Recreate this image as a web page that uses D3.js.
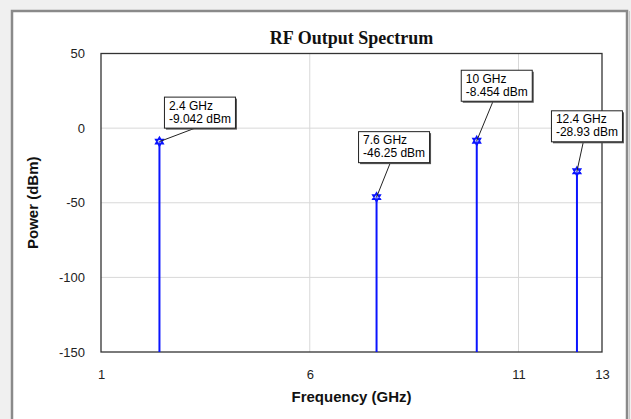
<!DOCTYPE html>
<html>
<head>
<meta charset="utf-8">
<script src="https://cdn.jsdelivr.net/npm/d3@7/dist/d3.min.js"></script>
<style>
  html, body { margin: 0; padding: 0; background: #f0f0f0; }
  svg { display: block; }
</style>
</head>
<body>
<svg id="chart" width="631" height="419"></svg>
<script>
// ---- data ----
const frequencies = [2.4, 7.6, 10, 12.4];          // GHz
const powers = [-9.042, -46.25, -8.454, -28.93];    // dBm
const freqLabels = ["2.4 GHz", "7.6 GHz", "10 GHz", "12.4 GHz"];
const powerLabels = ["-9.042 dBm", "-46.25 dBm", "-8.454 dBm", "-28.93 dBm"];
const xTicks = [1, 6, 11, 13];
const yTicks = [50, 0, -50, -100, -150];
const xGrid = [6, 11];
const yGrid = [0, -50, -100];

// ---- layout ----
const W = 631, H = 419;
const plot = { left: 101, right: 602, top: 53.5, bottom: 352 };
// callout box offset (top-left corner relative to marker)
const calloutOffsets = [[4.5, -45], [-18.5, -66], [-16, -71], [-26, -61]];

const svg = d3.select("#chart");

// frame
svg.append("rect").attr("x", 0).attr("y", 0).attr("width", W).attr("height", H).attr("fill", "#f0f0f0");
svg.append("rect").attr("x", 12).attr("y", 11).attr("width", 615).attr("height", 420)
  .attr("fill", "#ffffff").attr("stroke", "#8a8a8a").attr("stroke-width", 2.5);
svg.append("line").attr("x1", 629.5).attr("x2", 629.5).attr("y1", 11).attr("y2", H)
  .attr("stroke", "#c8c8c8").attr("stroke-width", 1);

const x = d3.scaleLinear().domain([1, 13]).range([plot.left, plot.right]);
const y = d3.scaleLinear().domain([-150, 50]).range([plot.bottom, plot.top]);

// grid
svg.append("g").selectAll("line").data(xGrid).join("line")
  .attr("x1", d => x(d)).attr("x2", d => x(d))
  .attr("y1", plot.top).attr("y2", plot.bottom)
  .attr("stroke", "#d8d8d8").attr("stroke-width", 1);
svg.append("g").selectAll("line").data(yGrid).join("line")
  .attr("x1", plot.left).attr("x2", plot.right)
  .attr("y1", d => y(d)).attr("y2", d => y(d))
  .attr("stroke", "#d8d8d8").attr("stroke-width", 1);

const fmt = d => String(d);

// axes (labels only, via d3 axis)
const xAxis = svg.append("g")
  .attr("transform", `translate(0,${plot.bottom})`)
  .call(d3.axisBottom(x).tickValues(xTicks).tickSize(0).tickPadding(18).tickFormat(fmt));
xAxis.select(".domain").remove();
xAxis.selectAll("text").attr("font-family", "Arial, 'Liberation Sans', sans-serif")
  .attr("font-size", 13).attr("fill", "#222");

const yAxis = svg.append("g")
  .attr("transform", `translate(${plot.left},0)`)
  .call(d3.axisLeft(y).tickValues(yTicks).tickSize(0).tickPadding(16).tickFormat(fmt));
yAxis.select(".domain").remove();
yAxis.selectAll("text").attr("font-family", "Arial, 'Liberation Sans', sans-serif")
  .attr("font-size", 13).attr("fill", "#222");

// plot border
svg.append("rect").attr("x", plot.left).attr("y", plot.top)
  .attr("width", plot.right - plot.left).attr("height", plot.bottom - plot.top)
  .attr("fill", "none").attr("stroke", "#333").attr("stroke-width", 1.3);

// title and axis labels
svg.append("text").attr("x", (plot.left + plot.right) / 2).attr("y", 44)
  .attr("text-anchor", "middle").attr("font-family", "'Liberation Serif', 'Times New Roman', serif")
  .attr("font-weight", "bold").attr("font-size", 18).attr("fill", "#111").text("RF Output Spectrum");
svg.append("text").attr("x", (plot.left + plot.right) / 2).attr("y", 402)
  .attr("text-anchor", "middle").attr("font-family", "Arial, 'Liberation Sans', sans-serif")
  .attr("font-weight", "bold").attr("font-size", 15).attr("fill", "#111").text("Frequency (GHz)");
svg.append("text").attr("transform", `translate(38,${(plot.top + plot.bottom) / 2}) rotate(-90)`)
  .attr("text-anchor", "middle").attr("font-family", "Arial, 'Liberation Sans', sans-serif")
  .attr("font-weight", "bold").attr("font-size", 15).attr("fill", "#111").text("Power (dBm)");

const pts = frequencies.map((f, i) => ({ f, p: powers[i], l1: freqLabels[i], l2: powerLabels[i], off: calloutOffsets[i] }));

// stems
svg.append("g").selectAll("line").data(pts).join("line")
  .attr("x1", d => x(d.f)).attr("x2", d => x(d.f))
  .attr("y1", d => y(d.p)).attr("y2", plot.bottom)
  .attr("stroke", "#0a14ff").attr("stroke-width", 2);

// markers (hexagram)
function hexagram(r) {
  const tri = a => d3.range(3).map(k => {
    const t = a + k * 2 * Math.PI / 3;
    return [r * Math.sin(t), -r * Math.cos(t)];
  });
  const t1 = tri(0), t2 = tri(Math.PI);
  return "M" + t1.join("L") + "Z M" + t2.join("L") + "Z";
}
svg.append("g").selectAll("path").data(pts).join("path")
  .attr("transform", d => `translate(${x(d.f)},${y(d.p)})`)
  .attr("d", hexagram(4.5))
  .attr("fill", "#aab4ff").attr("fill-opacity", 0.5)
  .attr("stroke", "#0a14ff").attr("stroke-width", 1.4);

// callouts
const cg = svg.append("g").selectAll("g").data(pts).join("g");
cg.each(function (d) {
  const g = d3.select(this);
  const mx = x(d.f), my = y(d.p);
  const bx = mx + d.off[0], by = my + d.off[1];
  const t1 = g.append("text").attr("x", bx + 5).attr("y", by + 13)
    .attr("font-family", "Arial, 'Liberation Sans', sans-serif").attr("font-size", 12).attr("fill", "#000").text(d.l1);
  const t2 = g.append("text").attr("x", bx + 5).attr("y", by + 26)
    .attr("font-family", "Arial, 'Liberation Sans', sans-serif").attr("font-size", 12).attr("fill", "#000").text(d.l2);
  const tw = Math.max(t1.node().getComputedTextLength(), t2.node().getComputedTextLength());
  const bw = Math.round(tw + 9), bh = 31;
  // connector
  g.insert("line", "text").attr("x1", bx + bw / 2 - 3).attr("y1", by + bh)
    .attr("x2", mx).attr("y2", my).attr("stroke", "#222").attr("stroke-width", 1);
  // shadow + box
  g.insert("rect", "text").attr("x", bx + 2).attr("y", by + 2).attr("width", bw).attr("height", bh)
    .attr("fill", "#555");
  g.insert("rect", "text").attr("x", bx + 0.5).attr("y", by + 0.5).attr("width", bw).attr("height", bh)
    .attr("fill", "#fff").attr("stroke", "#222").attr("stroke-width", 1);
});
</script>
</body>
</html>
